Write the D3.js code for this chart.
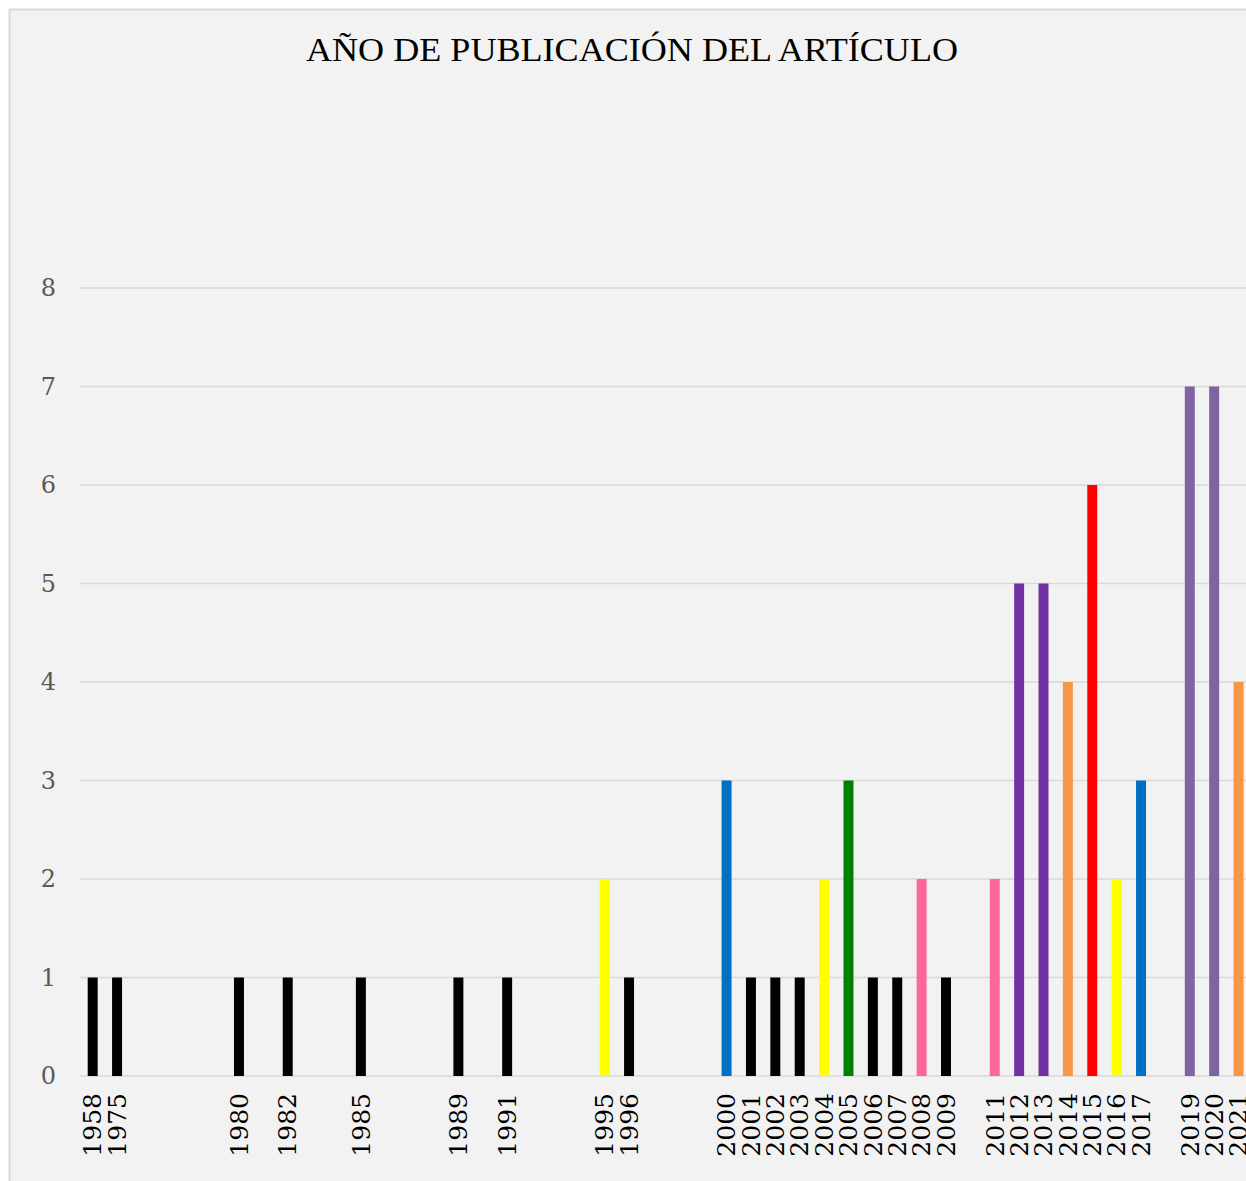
<!DOCTYPE html>
<html>
<head>
<meta charset="utf-8">
<title>año de publicación</title>
<style>
  body { margin: 0; background: #fff; overflow: hidden; }
  svg { display: block; }
</style>
</head>
<body>
<svg width="1246" height="1181"></svg>
<script src="https://d3js.org/d3.v7.min.js"></script>
<script>

// one slot per year, empty label where there is no article
var years = ["1958", "1975", "", "", "", "", "1980", "", "1982", "", "", "1985", "", "", "",
    "1989", "", "1991", "", "", "", "1995", "1996", "", "", "", "2000", "2001", "2002", "2003",
    "2004", "2005", "2006", "2007", "2008", "2009", "", "2011", "2012", "2013", "2014", "2015",
    "2016", "2017", "", "2019", "2020", "2021"];
var counts = [1, 1, 0, 0, 0, 0, 1, 0, 1, 0, 0, 1, 0, 0, 0,
    1, 0, 1, 0, 0, 0, 2, 1, 0, 0, 0, 3, 1, 1, 1,
    2, 3, 1, 1, 2, 1, 0, 2, 5, 5, 4, 6,
    2, 3, 0, 7, 7, 4];
var barColors = ["#000", "#000", "#000", "#000", "#000", "#000", "#000", "#000", "#000", "#000", "#000", "#000", "#000", "#000", "#000",
    "#000", "#000", "#000", "#000", "#000", "#000", "#FFFF00", "#000", "#000", "#000", "#000", "#0070C0", "#000", "#000", "#000",
    "#FFFF00", "#008000", "#000", "#000", "#FF6699", "#000", "#000", "#FF6699", "#7030A0", "#7030A0", "#F79646", "#FF0000",
    "#FFFF00", "#0070C0", "#000", "#8064A2", "#8064A2", "#F79646"];
var yTicks = [0, 1, 2, 3, 4, 5, 6, 7, 8];
var title = "AÑO DE PUBLICACIÓN DEL ARTÍCULO";

var svg = d3.select("svg");
var data = years.map(function (y, i) { return { i: i, year: y, n: counts[i], c: barColors[i] }; });

// chart area
svg.append("rect")
    .attr("x", 9.5).attr("y", 9.5)
    .attr("width", 1300).attr("height", 1300)
    .attr("fill", "#F2F2F2")
    .attr("stroke", "#D9D9D9")
    .attr("stroke-width", 2);

svg.append("text")
    .attr("x", 632).attr("y", 61)
    .attr("text-anchor", "middle")
    .attr("font-family", "Liberation Serif, serif")
    .attr("font-size", 33)
    .attr("textLength", 652)
    .attr("lengthAdjust", "spacingAndGlyphs")
    .attr("fill", "#000")
    .text(title);

var slot = 24.38;
var x = d3.scaleBand()
    .domain(d3.range(years.length))
    .range([80.5, 80.5 + slot * years.length])
    .paddingInner(14.4 / slot)
    .paddingOuter(7.2 / slot);

var y = d3.scaleLinear()
    .domain([0, 8])
    .range([1076, 288]);

// gridlines
svg.append("g")
    .selectAll("line")
    .data(yTicks)
    .join("line")
    .attr("x1", 80).attr("x2", 1300)
    .attr("y1", function (d) { return y(d); })
    .attr("y2", function (d) { return y(d); })
    .attr("stroke", "#D9D9D9")
    .attr("stroke-width", 1.5);

svg.append("g")
    .selectAll("text")
    .data(yTicks)
    .join("text")
    .attr("x", 56)
    .attr("y", function (d) { return y(d); })
    .attr("dy", "0.35em")
    .attr("text-anchor", "end")
    .attr("font-family", "DejaVu Serif, serif")
    .attr("font-size", 24)
    .attr("fill", "#595959")
    .text(function (d) { return d; });

// bars
svg.append("g")
    .selectAll("rect")
    .data(data.filter(function (d) { return d.n > 0; }))
    .join("rect")
    .attr("x", function (d) { return x(d.i); })
    .attr("y", function (d) { return y(d.n); })
    .attr("width", x.bandwidth())
    .attr("height", function (d) { return y(0) - y(d.n); })
    .attr("fill", function (d) { return d.c; });

// category labels
svg.append("g")
    .selectAll("text")
    .data(data.filter(function (d) { return d.year !== ""; }))
    .join("text")
    .attr("transform", function (d) {
        return "translate(" + (x(d.i) + x.bandwidth() / 2) + ",1093) rotate(-90)";
    })
    .attr("dy", "0.35em")
    .attr("text-anchor", "end")
    .attr("font-family", "DejaVu Serif, serif")
    .attr("font-size", 25)
    .attr("fill", "#000")
    .text(function (d) { return d.year; });

</script>
</body>
</html>
